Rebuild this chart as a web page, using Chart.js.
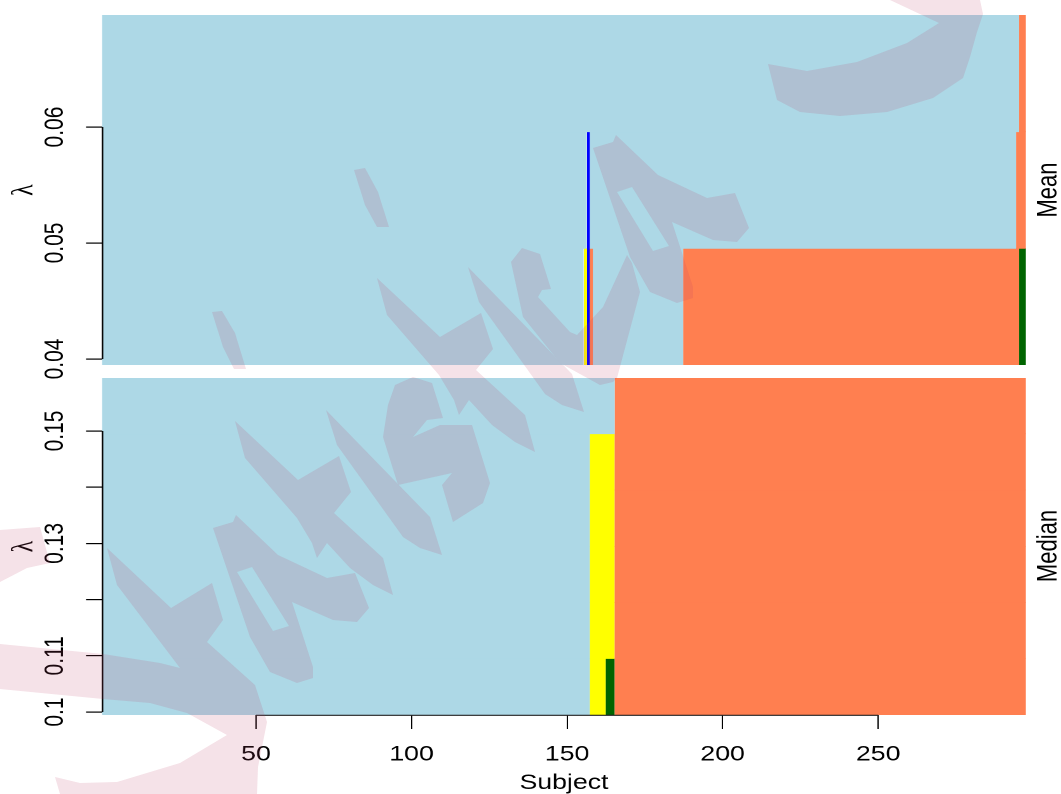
<!DOCTYPE html>
<html>
<head>
<meta charset="utf-8">
<script src="https://cdn.jsdelivr.net/npm/chart.js@4"></script>
<style>
html,body{margin:0;padding:0;background:#fff;width:1061px;height:794px;overflow:hidden}
canvas{position:absolute;left:0;top:0;transform-origin:0 0}
svg{position:absolute;left:0;top:0;pointer-events:none}
</style>
</head>
<body>
<canvas id="mean" width="835" height="794"></canvas>
<canvas id="median" width="835" height="794"></canvas>
<svg width="1061" height="794" viewBox="0 0 1061 794">
  <defs>
    <path id="wmA" fill-rule="evenodd" d="M213 528L233 522L236 515L278 555L327 578L355 573L369 608L357 622L333 620L292 602L313 667L313 678L297 683L270 672L250 637ZM237 572L252 567L289 626L273 631Z"/>
    <path id="wmT" d="M235 421L298 480L339 456L351 492L334 513L383 558L393 595L373 585L350 568L327 543L317 558L312 543L297 518L245 458Z"/>
    <path id="wmI" d="M326 410L430 517L442 555L420 548L403 537L337 445Z"/>
  </defs>
  <g fill="rgb(190,60,100)" opacity="0.15">
    <use href="#wmA"/>
    <use href="#wmA" transform="translate(380,-380)"/>
    <use href="#wmT"/>
    <use href="#wmT" transform="translate(142,-143)"/>
    <use href="#wmI"/>
    <use href="#wmI" transform="translate(142,-143)"/>
    <path d="M354 170L365 168L378 192L389 227L377 227L365 205Z"/>
    <path d="M212 312L222 311L235 333L246 369L234 369L223 347Z"/>
    <path d="M398 485L383 437L388 405L395 385L413 377L432 383L443 418L427 420L413 437L440 425L472 425L490 483L483 503L453 522L442 485L452 473Z"/>
    <path d="M511 262L522 248L540 254L551 289L542 290L538 297L570 332L577 335L603 307L627 255L632 263L640 292L617 378L613 382L600 385L560 363L523 317Z"/>
    <path d="M0 644L103 654L160 663L180 668L117 585L107 548L171 608L212 583L223 620L207 642L255 685L267 722L258 767L257 794L60 794L55 777L80 783L117 782L180 763L227 735L187 713L150 703L103 699L0 689Z"/>
    <path d="M0 530L40 527L50 563L27 568L0 582Z"/>
    <path d="M768 64L807 71L857 62L907 43L939 23L890 0L980 0L983 14L977 32L970 57L963 78L933 98L887 112L840 116L800 112L777 100Z"/>
  </g>
</svg>
<script>
// Subject axis
const subjectRange = [0.5, 297.5];
const subjectTicks = [50, 100, 150, 200, 250];

// Mean panel: lambda axis and image cells [lambda row, first edge, last edge]
const meanRange = [0.03948, 0.06966];
const meanTicks = [0.04, 0.05, 0.06];
const meanLightblue = [[0.0445, 0.5, 155.3], [0.0445, 158.3, 187.3], [0.05456, 0.5, 156.3], [0.05456, 157.3, 294.3], [0.06462, 0.5, 295.3]];
const meanCoral = [[0.0445, 157.3, 158.4], [0.0445, 187.3, 295.3], [0.05456, 294.3, 297.5], [0.06462, 295.3, 297.5]];
const meanYellow = [[0.0445, 155.4, 156.4]];
const meanBlue = [[0.0445, 156.4, 157.4], [0.05456, 156.4, 157.4]];
const meanGreen = [[0.0445, 295.3, 297.5]];

// Median panel
const medianRange = [0.09947, 0.15943];
const medianTicks = [0.1, 0.11, 0.12, 0.13, 0.14, 0.15];
const medianTickLabels = ['0.1', '0.11', '', '0.13', '', '0.15'];
const medianLightblue = [[0.1045, 0.5, 157.3], [0.1145, 0.5, 157.3], [0.1245, 0.5, 157.3], [0.1345, 0.5, 157.3], [0.1445, 0.5, 157.3], [0.1545, 0.5, 165.3]];
const medianCoral = [[0.1045, 165.3, 297.5], [0.1145, 165.3, 297.5], [0.1245, 165.3, 297.5], [0.1345, 165.3, 297.5], [0.1445, 165.3, 297.5], [0.1545, 165.3, 297.5]];
const medianYellow = [[0.1045, 157.3, 162.4], [0.1145, 157.3, 165.3], [0.1245, 157.3, 165.3], [0.1345, 157.3, 165.3], [0.1445, 157.3, 165.3]];
const medianGreen = [[0.1045, 162.4, 165.3]];

const STRETCH = 1061 / 835;
const SANS = '"Liberation Sans", Arial, sans-serif';

function cells(list, color, pct) {
  return {
    data: list.map(c => ({ y: c[0], x: [c[1], c[2]] })),
    backgroundColor: color, borderWidth: 0, grouped: false,
    barPercentage: pct, categoryPercentage: 1
  };
}

function panelPlugin(label, labelY) {
  return {
    id: 'panelDecor',
    afterDraw(chart) {
      const c = chart.ctx, y = chart.scales.y, x = chart.scales.x;
      c.save();
      c.strokeStyle = '#000'; c.lineWidth = 1.2; c.lineCap = 'butt';
      const tv = y.ticks.map(t => t.value);
      const lx = chart.chartArea.left + 0.4;
      c.beginPath();
      c.moveTo(lx, y.getPixelForValue(Math.min(...tv)));
      c.lineTo(lx, y.getPixelForValue(Math.max(...tv)));
      c.stroke();
      if (x.options.display) {
        const xv = x.ticks.map(t => t.value), by = chart.chartArea.bottom + 0.3;
        c.strokeStyle = '#222';
        c.beginPath();
        c.moveTo(x.getPixelForValue(Math.min(...xv)), by);
        c.lineTo(x.getPixelForValue(Math.max(...xv)), by);
        c.stroke();
      }
      c.translate(1049 / STRETCH, labelY);
      c.rotate(-Math.PI / 2);
      c.font = '22px ' + SANS; c.fillStyle = '#000';
      c.textAlign = 'center'; c.textBaseline = 'middle';
      c.fillText(label, 0, 0);
      c.restore();
    }
  };
}

function buildChart(id, opt) {
  const el = document.getElementById(id);
  const chart = new Chart(el, {
    type: 'bar',
    data: { datasets: opt.datasets },
    plugins: [panelPlugin(opt.label, opt.labelY)],
    options: {
      indexAxis: 'y', responsive: false, animation: false, devicePixelRatio: 2,
      layout: { padding: { left: 0, right: 27.6, top: opt.top, bottom: opt.bottomPad } },
      plugins: { legend: { display: false }, tooltip: { enabled: false } },
      scales: {
        x: {
          type: 'linear', min: subjectRange[0], max: subjectRange[1], display: opt.showX,
          border: { display: false },
          grid: { drawOnChartArea: false, drawTicks: true, tickLength: 14, color: '#000', lineWidth: 1 },
          ticks: { color: '#000', padding: 13, font: { family: SANS, size: 21 }, maxRotation: 0, autoSkip: false },
          afterBuildTicks(s) { s.ticks = subjectTicks.map(v => ({ value: v })); },
          afterFit(s) { s.height = opt.showX ? 79 : 0; s.paddingLeft = 0; s.paddingRight = 0; },
          title: { display: true, text: 'Subject', color: '#000', font: { family: SANS, size: 21 }, padding: { top: 0, bottom: -2 } }
        },
        y: {
          type: 'linear', min: opt.range[0], max: opt.range[1], offset: false,
          border: { display: false },
          grid: { offset: false, drawOnChartArea: false, drawTicks: true, tickLength: 12.6, color: '#000', lineWidth: 1.2 },
          ticks: {
            color: '#000', padding: 3.3, crossAlign: 'center', minRotation: 90, maxRotation: 90,
            autoSkip: false, font: { family: SANS, size: 21 },
            callback: opt.tickLabel
          },
          afterBuildTicks(s) { s.ticks = opt.ticks.map(v => ({ value: v })); },
          afterFit(s) { s.width = 102 / STRETCH; s.paddingTop = 0; s.paddingBottom = 0; },
          title: { display: true, text: 'λ', color: '#000', font: { family: '"Liberation Serif", serif', size: 24 }, padding: { top: 5, bottom: 0 } }
        }
      }
    }
  });
  el.style.transform = 'scaleX(' + STRETCH + ')';
  return chart;
}

const MEAN_PCT = 1.012, MEDIAN_PCT = 1.01;
buildChart('mean', {
  datasets: [cells(meanLightblue, '#ADD8E6', MEAN_PCT), cells(meanCoral, '#FF7F50', MEAN_PCT), cells(meanYellow, '#FFFF00', MEAN_PCT), cells(meanBlue, '#0000FF', MEAN_PCT), cells(meanGreen, '#006400', MEAN_PCT)],
  range: meanRange, ticks: meanTicks, tickLabel: v => v.toFixed(2),
  top: 15, bottomPad: 429, showX: false, label: 'Mean', labelY: 190
});
buildChart('median', {
  datasets: [cells(medianLightblue, '#ADD8E6', MEDIAN_PCT), cells(medianCoral, '#FF7F50', MEDIAN_PCT), cells(medianYellow, '#FFFF00', MEDIAN_PCT), cells(medianGreen, '#006400', MEDIAN_PCT)],
  range: medianRange, ticks: medianTicks,
  tickLabel: v => medianTickLabels[medianTicks.findIndex(t => Math.abs(t - v) < 1e-6)],
  top: 378, bottomPad: 0, showX: true, label: 'Median', labelY: 546
});
</script>
</body>
</html>
